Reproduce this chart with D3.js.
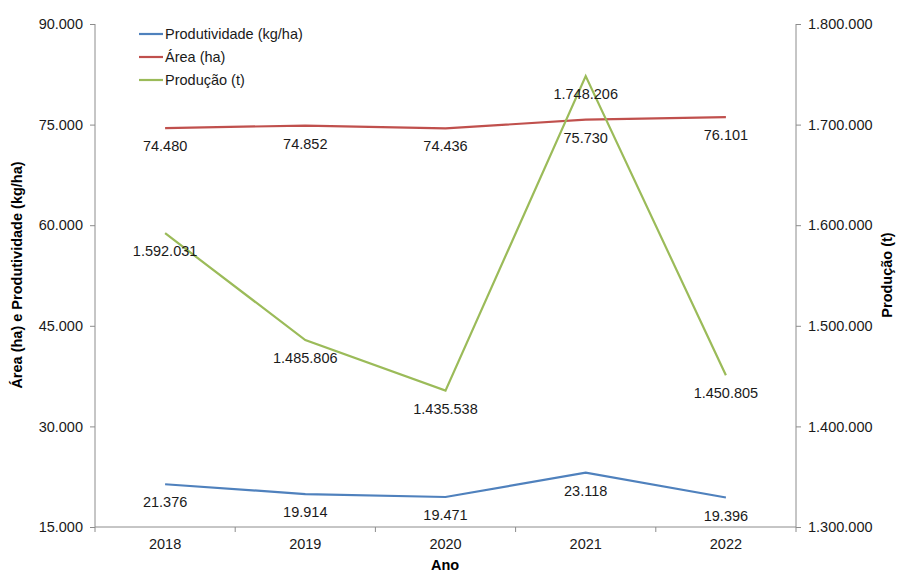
<!DOCTYPE html>
<html><head><meta charset="utf-8">
<script src="https://cdn.jsdelivr.net/npm/d3@7"></script>
<style>body{margin:0;background:#fff;font-family:"Liberation Sans",Arial,sans-serif;}</style>
</head><body><svg id="c" width="903" height="574"></svg>
<script>
const years = ["2018","2019","2020","2021","2022"];
const produtividade = [21376, 19914, 19471, 23118, 19396];
const area = [74480, 74852, 74436, 75730, 76101];
const producao = [1592031, 1485806, 1435538, 1748206, 1450805];
const leftTicks = [15000, 30000, 45000, 60000, 75000, 90000];
const rightTicks = [1300000, 1400000, 1500000, 1600000, 1700000, 1800000];
const seriesNames = ["Produtividade (kg/ha)", "Área (ha)", "Produção (t)"];
const colors = ["#4F81BD", "#C0504D", "#9BBB59"];

const svg = d3.select("#c");
const L = 95, R = 796, T = 24, B = 527;
const fmt = v => d3.format(",")(v).replace(/,/g, ".");
const x = d3.scaleBand().domain(years).range([L, R]);
const yL = d3.scaleLinear().domain([15000, 90000]).range([B, T]);
const yR = d3.scaleLinear().domain([1300000, 1800000]).range([B, T]);
const axisColor = "#8c8c8c";
const fs = "14.5px";

const gL = svg.append("g").attr("transform", `translate(${L},0)`)
  .call(d3.axisLeft(yL).tickValues(leftTicks).tickFormat(fmt).tickSize(5).tickPadding(7));
const gR = svg.append("g").attr("transform", `translate(${R},0)`)
  .call(d3.axisRight(yR).tickValues(rightTicks).tickFormat(fmt).tickSize(5).tickPadding(7));
const gB = svg.append("g").attr("transform", `translate(0,${B})`)
  .call(d3.axisBottom(x).tickSize(0).tickPadding(12));
svg.append("g").selectAll("line").data(d3.range(years.length + 1)).join("line")
  .attr("x1", i => L + i * x.step()).attr("x2", i => L + i * x.step())
  .attr("y1", B).attr("y2", B + 5).attr("stroke", axisColor);
[gL, gR, gB].forEach(g => {
  g.selectAll("path,line").attr("stroke", axisColor);
  g.selectAll("text").attr("font-family", "Liberation Sans, Arial, sans-serif")
    .attr("font-size", fs).attr("fill", "#1a1a1a");
});
gL.select(".domain").attr("d", `M0,${T}V${B}`);
gR.select(".domain").attr("d", `M0,${T}V${B}`);
gB.select(".domain").attr("d", `M${L},0H${R}`);

const cx = d => x(d) + x.bandwidth() / 2;
const series = [
  {vals: produtividade, y: yL},
  {vals: area, y: yL},
  {vals: producao, y: yR}
];
series.forEach((s, i) => {
  const line = d3.line().x((v, j) => cx(years[j])).y(v => s.y(v));
  svg.append("path").datum(s.vals).attr("d", line)
    .attr("fill", "none").attr("stroke", colors[i]).attr("stroke-width", 2.2);
  svg.append("g").selectAll("text").data(s.vals).join("text")
    .attr("x", (v, j) => cx(years[j])).attr("y", v => s.y(v) + 23)
    .attr("text-anchor", "middle").attr("font-size", fs).attr("fill", "#1a1a1a")
    .text(fmt);
});

const lg = svg.append("g");
seriesNames.forEach((n, i) => {
  const yy = 34 + i * 23;
  lg.append("line").attr("x1", 139).attr("x2", 163).attr("y1", yy).attr("y2", yy)
    .attr("stroke", colors[i]).attr("stroke-width", 2.2);
  lg.append("text").attr("x", 165).attr("y", yy + 5).attr("font-size", fs)
    .attr("fill", "#1a1a1a").text(n);
});

svg.append("text").attr("x", 445).attr("y", 570).attr("text-anchor", "middle")
  .attr("font-size", fs).attr("font-weight", "bold").text("Ano");
svg.append("text").attr("transform", `translate(22,275) rotate(-90)`).attr("text-anchor", "middle")
  .attr("font-size", fs).attr("font-weight", "bold").text("Área (ha) e Produtividade (kg/ha)");
svg.append("text").attr("transform", `translate(892,275) rotate(-90)`).attr("text-anchor", "middle")
  .attr("font-size", fs).attr("font-weight", "bold").text("Produção (t)");
</script></body></html>
